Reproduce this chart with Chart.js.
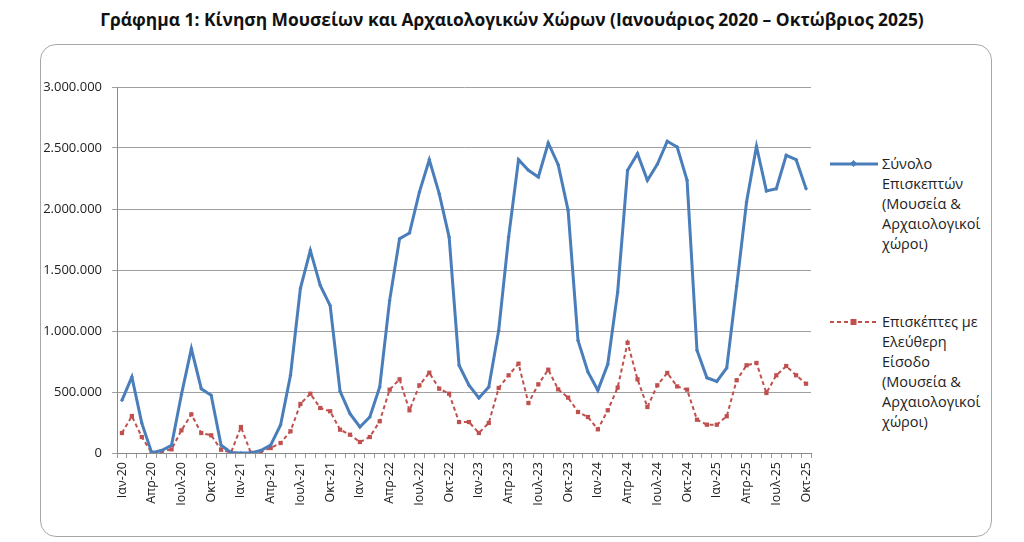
<!DOCTYPE html>
<html>
<head>
<meta charset="utf-8">
<script src="https://cdn.jsdelivr.net/npm/chart.js@4/dist/chart.umd.min.js"></script>
<style>
  html, body { margin: 0; padding: 0; background: #fff; }
  body { width: 1024px; height: 542px; position: relative; overflow: hidden; font-family: "Open Sans", sans-serif; }
  #title { position: absolute; left: 0; width: 1024px; top: 7px; text-align: center; font-weight: bold; font-size: 17.4px; color: #111; white-space: nowrap; }
  #frame { position: absolute; left: 40px; top: 44px; width: 950px; height: 491px; border: 1.5px solid #a8a8a8; border-radius: 16px; }
  #wrap { position: absolute; left: 40px; top: 50px; width: 790px; height: 487px; }
  .leg { position: absolute; left: 830px; font-size: 14.5px; line-height: 20px; color: #222; }
  .leg svg { position: absolute; left: 0; top: 4px; }
  .leg .txt { position: absolute; left: 52px; top: 0; white-space: nowrap; }
</style>
</head>
<body>
<div id="title">Γράφημα 1: Κίνηση Μουσείων και Αρχαιολογικών Χώρων (Ιανουάριος 2020 – Οκτώβριος 2025)</div>
<div id="frame"></div>
<div id="wrap"><canvas id="c" width="790" height="487"></canvas></div>
<div class="leg" id="leg1" style="top:154px;">
  <svg width="50" height="12"><line x1="0" y1="6" x2="48" y2="6" stroke="#4A7EBB" stroke-width="3"/><rect x="21" y="3" width="5" height="5" fill="#4A7EBB" transform="rotate(45 23.5 5.5)"/></svg>
  <div class="txt">Σύνολο<br>Επισκεπτών<br>(Μουσεία &amp;<br>Αρχαιολογικοί<br>χώροι)</div>
</div>
<div class="leg" id="leg2" style="top:312px;">
  <svg width="50" height="12"><line x1="0" y1="6" x2="48" y2="6" stroke="#C0504D" stroke-width="2" stroke-dasharray="4,3"/><rect x="20.5" y="3" width="6" height="6" fill="#C0504D"/></svg>
  <div class="txt">Επισκέπτες με<br>Ελεύθερη<br>Είσοδο<br>(Μουσεία &amp;<br>Αρχαιολογικοί<br>χώροι)</div>
</div>
<script>
const months = [
  "Ιαν-20","Φεβ-20","Μαρ-20","Απρ-20","Μαϊ-20","Ιουν-20","Ιουλ-20","Αυγ-20","Σεπ-20","Οκτ-20","Νοε-20","Δεκ-20",
  "Ιαν-21","Φεβ-21","Μαρ-21","Απρ-21","Μαϊ-21","Ιουν-21","Ιουλ-21","Αυγ-21","Σεπ-21","Οκτ-21","Νοε-21","Δεκ-21",
  "Ιαν-22","Φεβ-22","Μαρ-22","Απρ-22","Μαϊ-22","Ιουν-22","Ιουλ-22","Αυγ-22","Σεπ-22","Οκτ-22","Νοε-22","Δεκ-22",
  "Ιαν-23","Φεβ-23","Μαρ-23","Απρ-23","Μαϊ-23","Ιουν-23","Ιουλ-23","Αυγ-23","Σεπ-23","Οκτ-23","Νοε-23","Δεκ-23",
  "Ιαν-24","Φεβ-24","Μαρ-24","Απρ-24","Μαϊ-24","Ιουν-24","Ιουλ-24","Αυγ-24","Σεπ-24","Οκτ-24","Νοε-24","Δεκ-24",
  "Ιαν-25","Φεβ-25","Μαρ-25","Απρ-25","Μαϊ-25","Ιουν-25","Ιουλ-25","Αυγ-25","Σεπ-25","Οκτ-25"
];
const totalVisitors = [
  432000, 623000, 245000, 3000, 20000, 63000, 480000, 855000, 527000, 473000, 63000, 4000,
  1000, 1000, 20000, 65000, 230000, 637000, 1350000, 1661000, 1374000, 1208000, 505000, 322000,
  213000, 295000, 541000, 1251000, 1757000, 1803000, 2139000, 2404000, 2126000, 1770000, 719000, 555000,
  451000, 541000, 1005000, 1770000, 2404000, 2317000, 2262000, 2541000, 2363000, 1989000, 923000, 664000,
  514000, 727000, 1320000, 2317000, 2454000, 2235000, 2366000, 2555000, 2508000, 2235000, 842000, 617000,
  587000, 697000, 1366000, 2057000, 2514000, 2148000, 2167000, 2440000, 2404000, 2167000
];
const freeEntry = [
  164000, 303000, 131000, 2000, 14000, 30000, 186000, 317000, 164000, 145000, 27000, 3000,
  213000, 2000, 10000, 41000, 82000, 178000, 402000, 486000, 369000, 342000, 191000, 150000,
  90000, 131000, 260000, 519000, 604000, 350000, 555000, 658000, 527000, 486000, 254000, 254000,
  164000, 246000, 533000, 637000, 732000, 410000, 563000, 683000, 522000, 454000, 336000, 295000,
  194000, 350000, 536000, 904000, 604000, 377000, 555000, 656000, 546000, 519000, 273000, 232000,
  232000, 301000, 596000, 719000, 738000, 492000, 637000, 713000, 637000, 568000
];
const seriesNames = ["Σύνολο Επισκεπτών (Μουσεία & Αρχαιολογικοί χώροι)", "Επισκέπτες με Ελεύθερη Είσοδο (Μουσεία & Αρχαιολογικοί χώροι)"];
const yTicks = [0, 500000, 1000000, 1500000, 2000000, 2500000, 3000000];

function fmt(v) { return String(v).replace(/\B(?=(\d{3})+(?!\d))/g, "."); }

new Chart(document.getElementById("c"), {
  type: "line",
  data: {
    labels: months,
    datasets: [
      { label: seriesNames[0], data: totalVisitors, borderColor: "#4A7EBB", backgroundColor: "#4A7EBB",
        borderWidth: 3, pointStyle: "rectRot", pointRadius: 2, pointBorderWidth: 0, tension: 0 },
      { label: seriesNames[1], data: freeEntry, borderColor: "#C0504D", backgroundColor: "#C0504D",
        borderWidth: 2, borderDash: [4, 3], pointStyle: "rect", pointRadius: 3, pointBorderWidth: 0, tension: 0 }
    ]
  },
  options: {
    responsive: false,
    animation: false,
    layout: { padding: { left: 0, right: 19, top: 37, bottom: 0 } },
    plugins: { legend: { display: false }, tooltip: { enabled: false }, title: { display: false } },
    scales: {
      x: {
        offset: true,
        grid: { display: true, drawOnChartArea: false, drawTicks: true, tickLength: 5, color: "#9a9a9a", offset: true },
        border: { display: true, color: "#8a8a8a", width: 1 },
        ticks: {
          autoSkip: false, maxRotation: 90, minRotation: 90, padding: 4,
          color: "#222", font: { family: "Open Sans", size: 12.5 },
          callback: function (v, i) { return i % 3 === 0 ? months[i] : ""; }
        },
        afterFit: function (s) { s.height = 84; }
      },
      y: {
        min: 0, max: 3000000,
        afterBuildTicks: function (s) { s.ticks = yTicks.map(v => ({ value: v })); },
        grid: { color: "#a0a0a0", lineWidth: 1, drawTicks: true, tickLength: 5 },
        border: { display: true, color: "#8a8a8a", width: 1 },
        ticks: { color: "#222", padding: 10, font: { family: "Open Sans", size: 13 }, callback: function (v) { return fmt(v); } },
        afterFit: function (s) { s.width = 77; }
      }
    }
  }
});
</script>
</body>
</html>
